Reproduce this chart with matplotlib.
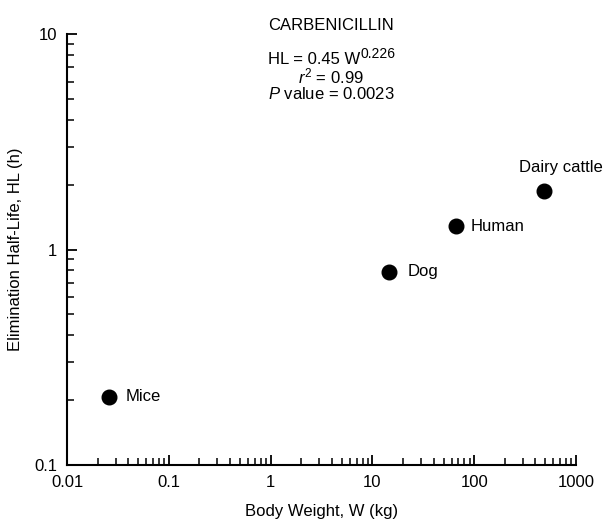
import matplotlib
matplotlib.use("Agg")
import matplotlib.pyplot as plt
from matplotlib.ticker import LogLocator, FixedLocator, FixedFormatter, NullFormatter
from matplotlib.transforms import offset_copy

plt.rcParams['font.family'] = ['Liberation Sans', 'DejaVu Sans']
plt.rcParams['mathtext.fontset'] = 'custom'
plt.rcParams['mathtext.rm'] = 'Liberation Sans'
plt.rcParams['mathtext.it'] = 'Liberation Sans:italic'
plt.rcParams['mathtext.bf'] = 'Liberation Sans:bold'

species = ["Mice", "Dog", "Human", "Dairy cattle"]
body_weight = [0.026, 14.6, 67, 485]
half_life = [0.207, 0.79, 1.28, 1.87]
x_ticks = [0.01, 0.1, 1, 10, 100, 1000]
x_tick_labels = ["0.01", "0.1", "1", "10", "100", "1000"]
y_ticks = [0.1, 1, 10]
y_tick_labels = ["0.1", "1", "10"]

fig = plt.figure(figsize=(6.10, 5.19), dpi=100)
ax = fig.add_axes([67/610, 1-465/519, (576-67)/610, (465-34)/519])
ax.set_xscale('log')
ax.set_yscale('log')
ax.set_xlim(0.01, 1000)
ax.set_ylim(0.1, 10)

ax.plot(body_weight, half_life, 'o', color='black', markersize=10.5, linestyle='none', clip_on=False)

offsets = {"Mice": (12, 0, 'left', 'center'),
           "Dog": (13, 0, 'left', 'center'),
           "Human": (10, 0, 'left', 'center'),
           "Dairy cattle": (12, 17, 'center', 'center')}
for name, xv, yv in zip(species, body_weight, half_life):
    dx, dy, ha, va = offsets[name]
    ax.annotate(name, (xv, yv), xytext=(dx, dy), textcoords='offset points',
                ha=ha, va=va, fontsize=12)

ax.spines['top'].set_visible(False)
ax.spines['right'].set_visible(False)
for s in ['left', 'bottom']:
    ax.spines[s].set_linewidth(1.5)

ax.xaxis.set_major_locator(FixedLocator(x_ticks))
ax.xaxis.set_major_formatter(FixedFormatter(x_tick_labels))
ax.yaxis.set_major_locator(FixedLocator(y_ticks))
ax.yaxis.set_major_formatter(FixedFormatter(y_tick_labels))
ax.xaxis.set_minor_locator(LogLocator(base=10, subs=range(2, 10)))
ax.yaxis.set_minor_locator(LogLocator(base=10, subs=range(2, 10)))
ax.xaxis.set_minor_formatter(NullFormatter())
ax.yaxis.set_minor_formatter(NullFormatter())

ax.tick_params(which='major', direction='in', length=7, width=1.3, labelsize=12, pad=7)
ax.tick_params(which='minor', direction='in', length=5, width=1.1)

ax.set_xlabel("Body Weight, W (kg)", fontsize=12, labelpad=10)
ax.set_ylabel("Elimination Half-Life, HL (h)", fontsize=12, labelpad=8)

cx = 0.519
ax.text(cx, 1.02, "CARBENICILLIN", transform=ax.transAxes, ha='center', va='center', fontsize=12)
split = 0.576
ax.text(split, 0.940, "HL = 0.45 W", transform=ax.transAxes, ha='right', va='center', fontsize=12)
sup_tr = offset_copy(ax.transAxes, fig=fig, x=0.5, y=4.5, units='points')
ax.text(split, 0.940, "0.226", transform=sup_tr, ha='left', va='center', fontsize=10)
ax.text(cx, 0.901, r"$r^2$ = 0.99", transform=ax.transAxes, ha='center', va='center', fontsize=12)
ax.text(cx, 0.861, r"$P$ value = 0.0023", transform=ax.transAxes, ha='center', va='center', fontsize=12)

fig.savefig("out.png", dpi=100)
